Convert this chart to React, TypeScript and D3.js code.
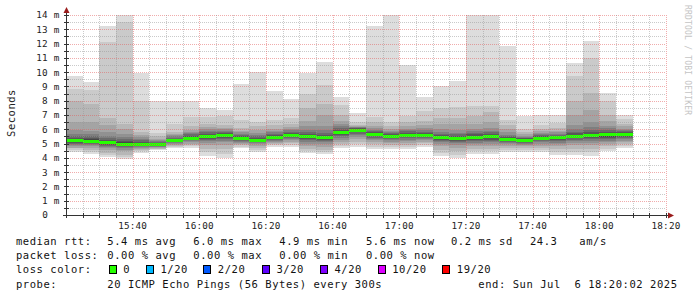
import React from "react";
import * as d3 from "d3";

// ---------- data ----------
const startTime = new Date(2025, 6, 6, 15, 20, 0);
const endTime = new Date(2025, 6, 6, 18, 20, 0);
const stepMinutes = 5;

// 20 sorted ping RTTs (ms) per 5-minute interval, starting 15:20
const pings: number[][] = [
  [4.43, 4.55, 4.68, 4.72, 4.82, 4.9, 4.98, 5.05, 5.12, 5.17, 5.23, 5.32, 5.42, 5.55, 5.7, 5.95, 6.5, 7.98, 8.84, 9.73],
  [4.25, 4.38, 4.52, 4.68, 4.8, 4.88, 4.96, 5.03, 5.1, 5.15, 5.21, 5.3, 5.4, 5.53, 5.68, 5.9, 6.5, 7.75, 8.75, 9.3],
  [4.04, 4.18, 4.32, 4.55, 4.66, 4.76, 4.84, 4.91, 4.98, 5.03, 5.09, 5.18, 5.28, 5.41, 5.56, 5.8, 6.3, 6.8, 12.1, 13.2],
  [3.9, 4.05, 4.2, 4.45, 4.57, 4.67, 4.75, 4.82, 4.89, 4.94, 5.0, 5.09, 5.19, 5.32, 5.47, 5.7, 6.0, 6.4, 13.5, 14.0],
  [4.36, 4.46, 4.56, 4.62, 4.7, 4.76, 4.82, 4.87, 4.91, 4.93, 4.97, 5.04, 5.12, 5.22, 5.33, 5.45, 5.6, 5.83, 8.0, 9.96],
  [4.55, 4.6, 4.65, 4.7, 4.74, 4.78, 4.82, 4.85, 4.87, 4.89, 4.92, 4.97, 5.03, 5.1, 5.17, 5.25, 5.35, 5.5, 5.72, 8.0],
  [4.71, 4.78, 4.85, 4.92, 4.98, 5.03, 5.08, 5.12, 5.16, 5.18, 5.22, 5.28, 5.35, 5.42, 5.5, 5.6, 5.7, 5.83, 6.4, 8.0],
  [4.7, 4.8, 4.9, 5.0, 5.08, 5.15, 5.22, 5.28, 5.33, 5.37, 5.41, 5.48, 5.56, 5.64, 5.73, 5.83, 5.95, 6.2, 6.88, 8.0],
  [4.13, 4.4, 4.65, 4.9, 5.05, 5.17, 5.27, 5.35, 5.44, 5.5, 5.56, 5.63, 5.7, 5.78, 5.87, 6.0, 6.15, 6.4, 6.85, 7.5],
  [4.0, 4.3, 4.6, 4.9, 5.08, 5.2, 5.3, 5.4, 5.5, 5.57, 5.63, 5.7, 5.77, 5.84, 5.91, 6.0, 6.1, 6.3, 6.9, 7.35],
  [4.67, 4.78, 4.88, 4.98, 5.06, 5.14, 5.21, 5.27, 5.33, 5.37, 5.41, 5.48, 5.55, 5.62, 5.7, 5.8, 5.9, 6.1, 6.65, 9.15],
  [4.43, 4.58, 4.72, 4.85, 4.95, 5.03, 5.1, 5.16, 5.2, 5.23, 5.27, 5.34, 5.42, 5.5, 5.6, 5.75, 5.95, 6.2, 6.5, 10.0],
  [4.78, 4.88, 4.98, 5.06, 5.14, 5.21, 5.28, 5.34, 5.4, 5.44, 5.48, 5.55, 5.62, 5.7, 5.78, 5.9, 6.05, 6.3, 6.65, 8.7],
  [4.78, 4.9, 5.02, 5.14, 5.24, 5.32, 5.4, 5.46, 5.53, 5.58, 5.62, 5.69, 5.76, 5.84, 5.92, 6.02, 6.15, 6.4, 6.8, 8.1],
  [4.36, 4.5, 4.65, 4.85, 5.0, 5.12, 5.22, 5.3, 5.38, 5.45, 5.51, 5.6, 5.7, 5.82, 5.96, 6.2, 6.6, 7.5, 8.45, 9.96],
  [4.27, 4.42, 4.58, 4.78, 4.95, 5.08, 5.18, 5.26, 5.33, 5.38, 5.44, 5.53, 5.63, 5.76, 5.92, 6.2, 7.0, 7.8, 9.1, 10.7],
  [4.67, 4.8, 4.95, 5.1, 5.25, 5.38, 5.5, 5.6, 5.69, 5.76, 5.82, 5.9, 5.98, 6.08, 6.2, 6.38, 6.6, 7.0, 7.7, 8.28],
  [4.78, 4.95, 5.12, 5.3, 5.45, 5.58, 5.7, 5.8, 5.88, 5.93, 5.97, 6.02, 6.06, 6.1, 6.13, 6.16, 6.2, 6.3, 6.5, 7.16],
  [4.62, 4.78, 4.95, 5.1, 5.22, 5.33, 5.42, 5.5, 5.57, 5.62, 5.68, 5.75, 5.82, 5.9, 5.98, 6.1, 6.25, 6.5, 6.88, 13.2],
  [4.62, 4.76, 4.9, 5.03, 5.14, 5.23, 5.31, 5.38, 5.45, 5.5, 5.56, 5.62, 5.68, 5.74, 5.8, 5.9, 6.0, 6.2, 6.5, 14.0],
  [4.6, 4.75, 4.9, 5.05, 5.17, 5.27, 5.36, 5.44, 5.52, 5.57, 5.63, 5.7, 5.77, 5.85, 5.93, 6.05, 6.25, 6.5, 6.9, 10.5],
  [4.78, 4.9, 5.02, 5.14, 5.24, 5.32, 5.4, 5.47, 5.53, 5.58, 5.62, 5.69, 5.76, 5.84, 5.93, 6.08, 6.3, 6.6, 7.3, 8.28],
  [4.13, 4.35, 4.58, 4.8, 4.97, 5.1, 5.2, 5.28, 5.35, 5.39, 5.43, 5.51, 5.6, 5.7, 5.82, 6.0, 6.4, 6.8, 7.5, 9.03],
  [3.97, 4.2, 4.45, 4.72, 4.9, 5.03, 5.13, 5.21, 5.28, 5.32, 5.36, 5.44, 5.53, 5.64, 5.77, 5.98, 6.4, 6.8, 7.58, 9.38],
  [4.25, 4.45, 4.65, 4.83, 4.95, 5.05, 5.15, 5.25, 5.35, 5.43, 5.49, 5.56, 5.65, 5.76, 5.88, 6.05, 6.4, 6.9, 7.63, 14.0],
  [4.25, 4.45, 4.65, 4.85, 4.98, 5.08, 5.18, 5.28, 5.37, 5.45, 5.51, 5.58, 5.67, 5.78, 5.9, 6.08, 6.5, 7.2, 7.6, 14.0],
  [4.43, 4.58, 4.72, 4.86, 4.97, 5.06, 5.13, 5.19, 5.24, 5.28, 5.32, 5.39, 5.46, 5.54, 5.63, 5.78, 6.0, 6.3, 6.65, 11.8],
  [4.43, 4.56, 4.68, 4.8, 4.9, 4.98, 5.05, 5.12, 5.17, 5.21, 5.25, 5.3, 5.36, 5.42, 5.48, 5.55, 5.65, 5.8, 6.0, 6.93],
  [4.43, 4.58, 4.72, 4.86, 4.98, 5.08, 5.16, 5.23, 5.29, 5.34, 5.4, 5.46, 5.52, 5.58, 5.65, 5.74, 5.85, 6.0, 6.3, 7.0],
  [4.2, 4.4, 4.6, 4.8, 4.95, 5.07, 5.17, 5.25, 5.32, 5.38, 5.44, 5.5, 5.56, 5.62, 5.68, 5.78, 5.9, 6.1, 6.46, 7.0],
  [4.2, 4.42, 4.65, 4.88, 5.05, 5.18, 5.28, 5.37, 5.45, 5.5, 5.56, 5.63, 5.72, 5.84, 6.0, 6.3, 7.0, 8.0, 9.73, 10.66],
  [4.15, 4.38, 4.62, 4.88, 5.06, 5.2, 5.31, 5.4, 5.49, 5.55, 5.61, 5.69, 5.8, 5.95, 6.15, 6.5, 7.35, 8.56, 10.97, 12.2],
  [4.5, 4.65, 4.8, 4.95, 5.08, 5.2, 5.3, 5.39, 5.48, 5.58, 5.65, 5.73, 5.82, 5.93, 6.06, 6.25, 6.6, 7.0, 8.0, 8.56],
  [4.7, 4.82, 4.95, 5.08, 5.2, 5.3, 5.39, 5.46, 5.53, 5.59, 5.65, 5.71, 5.78, 5.85, 5.93, 6.05, 6.2, 6.4, 6.7, 7.0],
];

const medians: number[] = [
  5.2, 5.18, 5.06, 4.97, 4.95, 4.9, 5.2, 5.39, 5.53, 5.6, 5.39, 5.25, 5.46, 5.6, 5.48, 5.41, 5.79,
  5.95, 5.65, 5.53, 5.6, 5.6, 5.41, 5.34, 5.46, 5.48, 5.3, 5.23, 5.37, 5.41, 5.53, 5.58, 5.62, 5.62,
];

const yTickValues: number[] = [0, 1, 2, 3, 4, 5, 6, 7, 8, 9, 10, 11, 12, 13, 14];
const xTickLabels: string[] = ["15:40", "16:00", "16:20", "16:40", "17:00", "17:20", "17:40", "18:00", "18:20"];

const medianStats: string[] = ["5.4 ms avg", "6.0 ms max", "4.9 ms min", "5.6 ms now", "0.2 ms sd", "24.3", "am/s"];
const lossStats: string[] = ["0.00 % avg", "0.00 % max", "0.00 % min", "0.00 % now"];
const lossLabels: string[] = ["0", "1/20", "2/20", "3/20", "4/20", "10/20", "19/20"];
const lossColors: string[] = ["#26ff00", "#00b8ff", "#0059ff", "#5e00ff", "#7e00ff", "#dd00ff", "#ff0000"];
const probeText = "20 ICMP Echo Pings (56 Bytes) every 300s";
const endText = "end: Sun Jul  6 18:20:02 2025";
const yTitle = "Seconds";
const watermark = "RRDTOOL / TOBI OETIKER";

// ---------- styling / layout ----------
const W = 697;
const H = 297;
const smokeColors = ["#dddddd", "#cacaca", "#b7b7b7", "#a4a4a4", "#919191", "#7e7e7e", "#6b6b6b", "#585858", "#454545", "#323232"];
const MONO = "'DejaVu Sans Mono', monospace";
const medianStatX = [107.3, 193.3, 279.3, 366, 451, 530, 579.3];
const lossStatX = [107.3, 193.3, 279.3, 366];
const lossBoxX = [108.7, 146, 203.3, 262, 320, 377.7, 442.3];
const lineY = [244.8, 259, 273.2, 287.5];

const keepSpaces = (s: string) => s.replace(/ /g, "\u00a0");

export default function App() {
  const x = d3.scaleTime().domain([startTime, endTime]).range([66, 666]);
  const y = d3.scaleLinear().domain([0, 14]).range([215, 15]);
  const yMax = 14;

  const binStart = (i: number) => d3.timeMinute.offset(startTime, i * stepMinutes);

  const smoke: React.ReactNode[] = [];
  pings.forEach((p, i) => {
    const x0 = Math.round(x(binStart(i)));
    const x1 = Math.round(x(binStart(i + 1)));
    for (let k = 0; k < 10; k++) {
      const lo = p[k];
      const hi = Math.min(p[19 - k], yMax);
      const yt = Math.round(y(hi));
      const yb = Math.round(y(lo));
      smoke.push(
        <rect key={`s${i}-${k}`} x={x0} y={yt} width={x1 - x0} height={Math.max(0, yb - yt)} fill={smokeColors[k]} />
      );
    }
  });

  const medianMarks = medians.map((m, i) => {
    const x0 = Math.round(x(binStart(i)));
    const x1 = Math.round(x(binStart(i + 1)));
    const yc = y(m);
    return <rect key={`m${i}`} x={x0} y={Math.round(yc - 1.5)} width={x1 - x0} height={3} fill={lossColors[0]} />;
  });

  // grid
  const minorY = d3.range(1, 29).map((v) => v * 0.5);
  const minorTimes = d3.timeMinute.every(5)!.range(d3.timeMinute.offset(startTime, 5), d3.timeMinute.offset(endTime, 1));
  const majorTimes = d3.timeMinute.every(20)!.range(d3.timeMinute.offset(startTime, 20), d3.timeMinute.offset(endTime, 1));

  const minorColor = "rgba(150,150,150,0.5)";
  const majorColor = "rgba(225,90,90,0.5)";

  const grid: React.ReactNode[] = [];
  minorY.forEach((v) => {
    const isMajor = Number.isInteger(v);
    const yy = Math.round(y(v)) + 0.5;
    grid.push(
      <line key={`gy${v}`} x1={66} x2={666} y1={yy} y2={yy} stroke={isMajor ? majorColor : minorColor} strokeDasharray="1,1" />
    );
  });
  minorTimes.forEach((t) => {
    const isMajor = t.getMinutes() % 20 === 0;
    const xx = Math.round(x(t)) + 0.5;
    grid.push(
      <line key={`gx${+t}`} x1={xx} x2={xx} y1={15} y2={215} stroke={isMajor ? majorColor : minorColor} strokeDasharray="1,1" />
    );
  });

  const axisColor = "#333333";
  const arrowColor = "#9a1c1c";
  const x0a = Math.round(x(startTime)) + 0.5;
  const y0a = Math.round(y(0)) + 0.5;

  return (
    <div style={{ position: "absolute", left: 0, top: 0 }}>
      <svg width={W} height={H} style={{ display: "block", background: "#ffffff" }} shapeRendering="crispEdges">
        <rect x={0} y={0} width={W} height={H} fill="#ffffff" />
        <g>{smoke}</g>
        <g>{medianMarks}</g>
        <g>{grid}</g>

        {/* axis ticks */}
        <g stroke={axisColor}>
          {minorY.map((v) => {
            const yy = Math.round(y(v)) + 0.5;
            return <line key={`ty${v}`} x1={64} x2={69} y1={yy} y2={yy} />;
          })}
          {minorTimes.map((t) => {
            const xx = Math.round(x(t)) + 0.5;
            return <line key={`tx${+t}`} x1={xx} x2={xx} y1={213} y2={218} />;
          })}
        </g>

        {/* axes */}
        <line x1={x0a} x2={x0a} y1={218} y2={12} stroke={axisColor} />
        <line x1={63} x2={669} y1={y0a} y2={y0a} stroke={axisColor} />
        <path d={`M${x0a - 3},${13} L${x0a + 3},${13} L${x0a},${7} Z`} fill={arrowColor} shapeRendering="auto" />
        <path d={`M${668},${y0a - 3} L${668},${y0a + 3} L${674},${y0a} Z`} fill={arrowColor} shapeRendering="auto" />

        {/* y tick labels */}
        <g fontFamily={MONO} fontSize={9.3} letterSpacing={0.2} fill="#222" textAnchor="end">
          {yTickValues.map((v) => (
            <text key={`yl${v}`} x={v === 0 ? 48 : 59.5} y={y(v) + 3.4}>
              {v === 0 ? "0" : `${v} m`}
            </text>
          ))}
        </g>

        {/* x tick labels */}
        <g fontFamily={MONO} fontSize={9.3} letterSpacing={0.2} fill="#222" textAnchor="middle">
          {majorTimes.map((t, i) => (
            <text key={`xl${i}`} x={x(t)} y={228.8}>
              {xTickLabels[i]}
            </text>
          ))}
        </g>

        {/* y title */}
        <text
          transform={`translate(14.5,113) rotate(-90)`}
          fontFamily={MONO}
          fontSize={10.5}
          letterSpacing={0.5}
          fill="#222"
          textAnchor="middle"
        >
          {yTitle}
        </text>

        {/* watermark */}
        <text
          transform={`translate(684.5,5) rotate(90)`}
          fontFamily={MONO}
          fontSize={8}
          letterSpacing={0.2}
          fill="#c4c4c4"
        >
          {watermark}
        </text>

        {/* legend */}
        <g fontFamily={MONO} fontSize={10.5} letterSpacing={0.55} fill="#111">
          <text x={16} y={lineY[0]}>median rtt:</text>
          {medianStats.map((s, i) => (
            <text key={`ms${i}`} x={medianStatX[i]} y={lineY[0]}>{s}</text>
          ))}
          <text x={16} y={lineY[1]}>packet loss:</text>
          {lossStats.map((s, i) => (
            <text key={`ls${i}`} x={lossStatX[i]} y={lineY[1]}>{s}</text>
          ))}
          <text x={16} y={lineY[2]}>loss color:</text>
          {lossLabels.map((s, i) => (
            <g key={`lc${i}`}>
              <rect x={Math.round(lossBoxX[i]) + 0.5} y={265.5} width={7} height={8} fill={lossColors[i]} stroke="#000" strokeWidth={1} />
              <text x={lossBoxX[i] + 14.5} y={lineY[2]}>{s}</text>
            </g>
          ))}
          <text x={16} y={lineY[3]}>probe:</text>
          <text x={107.3} y={lineY[3]}>{probeText}</text>
          <text x={478.3} y={lineY[3]}>{keepSpaces(endText)}</text>
        </g>
      </svg>
    </div>
  );
}
